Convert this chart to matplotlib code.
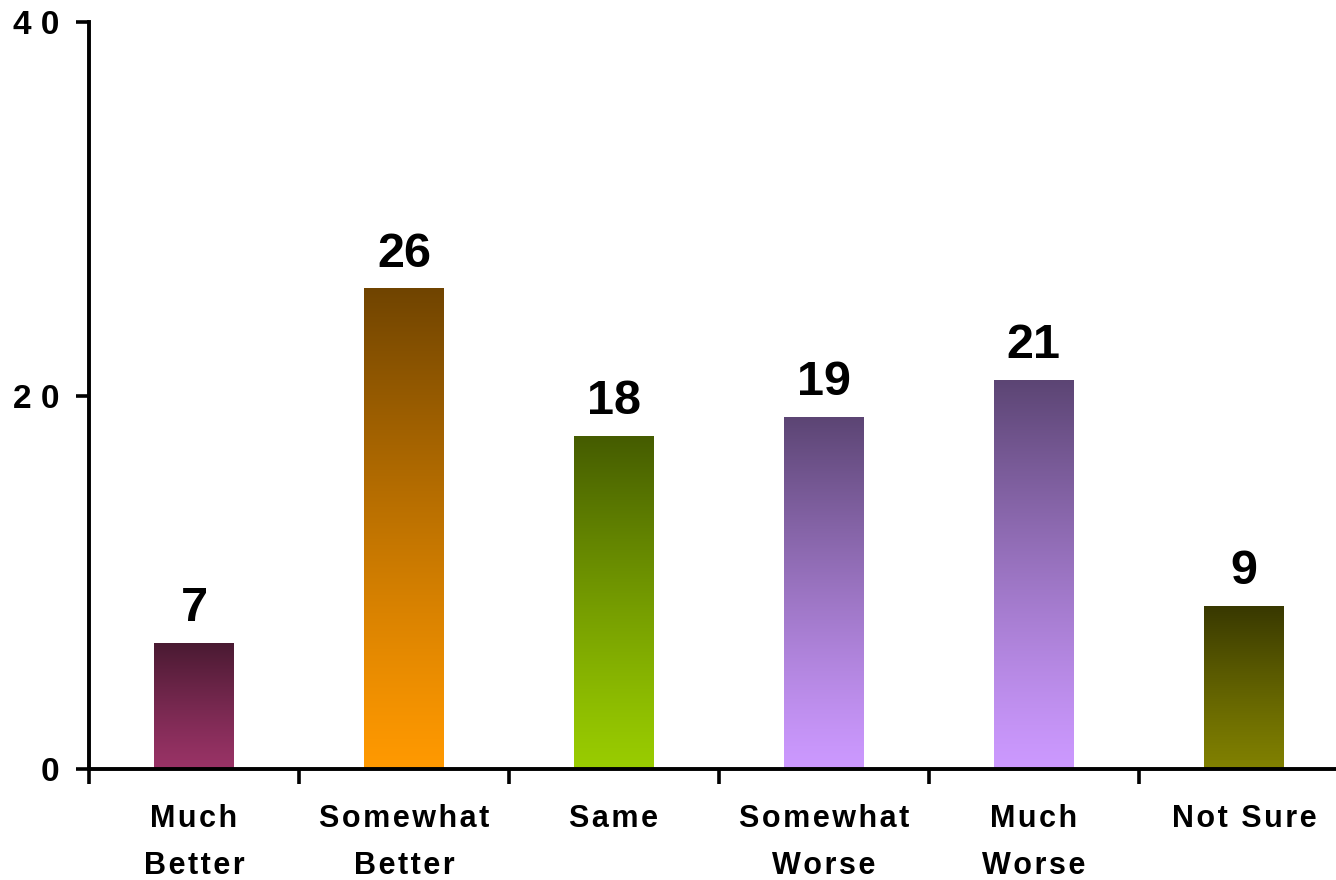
import numpy as np
import matplotlib
matplotlib.use("Agg")
import matplotlib.pyplot as plt
from matplotlib.colors import to_rgb

# --- data ---
categories = ["Much\nBetter", "Somewhat\nBetter", "Same", "Somewhat\nWorse", "Much\nWorse", "Not Sure"]
bar_values = [6.7, 25.7, 17.8, 18.8, 20.8, 8.7]   # heights as drawn
value_labels = ["7", "26", "18", "19", "21", "9"]  # printed (rounded) labels
bottom_colors = ["#993366", "#ff9900", "#99cc00", "#cc99ff", "#cc99ff", "#808000"]
top_colors = ["#4a1a32", "#704400", "#455c00", "#5c4574", "#5c4574", "#383800"]
y_ticks = [0, 20, 40]
y_tick_labels = ["0", "2 0", "4 0"]

plt.rcParams["font.family"] = ["Liberation Sans", "DejaVu Sans"]
plt.rcParams["font.weight"] = "bold"


def spaced(label):
    # loose letter spacing like the original
    return "\n".join("\u200a".join(line) for line in label.split("\n"))


fig = plt.figure(figsize=(13.36, 8.8), dpi=100)
ax = fig.add_axes([0.0666, 0.126, 0.943, 0.849])

x = np.arange(len(bar_values))
bar_w = 0.38
n = 256
t = np.linspace(0, 1, n)[:, None]
for xi, v, lab, cb, ct in zip(x, bar_values, value_labels, bottom_colors, top_colors):
    c0 = np.array(to_rgb(cb))
    c1 = np.array(to_rgb(ct))
    grad = c0 + (c1 - c0) * t ** 1.2
    img = np.repeat(grad[:, None, :], 2, axis=1)
    ax.imshow(img, extent=(xi - bar_w / 2, xi + bar_w / 2, 0, v),
              origin="lower", aspect="auto", interpolation="bilinear", zorder=2)
    ax.annotate(lab, (xi, v), xytext=(0, 9), textcoords="offset points",
                ha="center", va="bottom", fontsize=35, fontweight="bold")

ax.set_xlim(-0.5, len(bar_values) - 0.5)
ax.set_ylim(0, 40)

for s in ["top", "right"]:
    ax.spines[s].set_visible(False)
for s in ["left", "bottom"]:
    ax.spines[s].set_linewidth(2.8)
ax.spines["left"].set_zorder(3)

ax.set_yticks(y_ticks)
ax.set_yticklabels(y_tick_labels, fontsize=24, fontweight="bold")
ax.tick_params(axis="y", length=9.5, width=2.6, pad=12)

ax.set_xticks(x)
ax.set_xticklabels([spaced(c) for c in categories], fontsize=22,
                   fontweight="bold", linespacing=1.75, va="top")
ax.set_xticks(np.arange(-0.5, len(bar_values) - 0.5, 1.0), minor=True)
ax.tick_params(axis="x", which="major", length=0, pad=25)
ax.tick_params(axis="x", which="minor", length=11, width=2.6)

fig.savefig("out.png", dpi=100)
